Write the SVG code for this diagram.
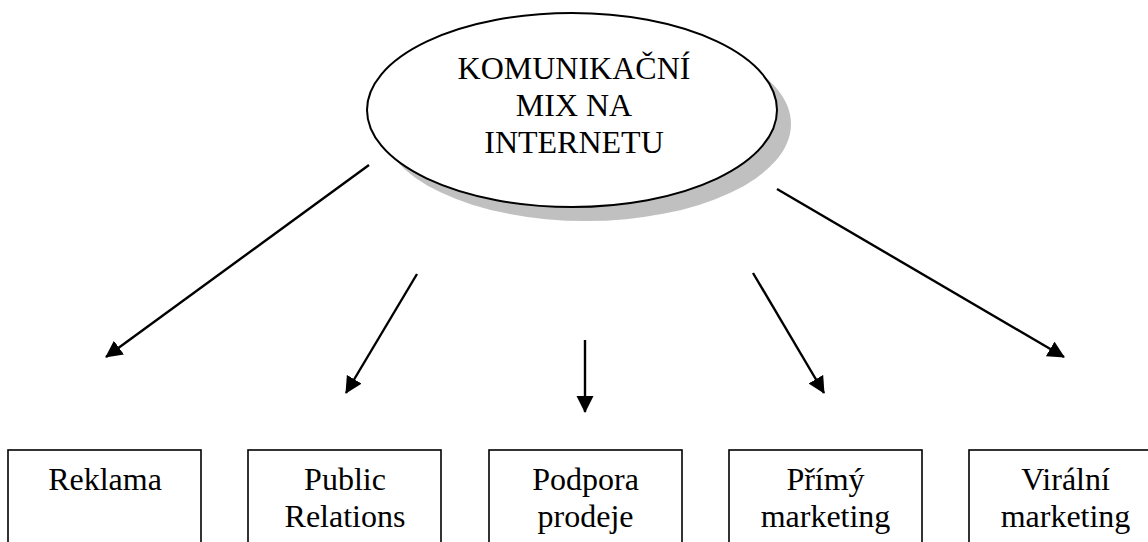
<svg xmlns="http://www.w3.org/2000/svg" width="1148" height="542" viewBox="0 0 1148 542">
  <style>
    .lbl { font-family: "Liberation Serif", "Times New Roman", serif; font-size: 32px; fill: #000; text-anchor: middle; }
    .box { fill: #fff; stroke: #000; stroke-width: 1.6; }
    .arrow { stroke: #000; stroke-width: 2.4; fill: none; marker-end: url(#head); }
  </style>
  <defs>
    <marker id="head" markerUnits="userSpaceOnUse" markerWidth="18" markerHeight="18" refX="16" refY="8.5" orient="auto">
      <path d="M0,0 L17,8.5 L0,17 z" fill="#000"/>
    </marker>
  </defs>

  <rect width="1148" height="542" fill="#fff"/>

  <!-- central topic with drop shadow -->
  <g id="center">
    <ellipse cx="586" cy="124" rx="205" ry="97" fill="#c0c0c0"/>
    <ellipse cx="572" cy="110" rx="205" ry="97" fill="#fff" stroke="#000" stroke-width="2"/>
    <text class="lbl" x="574" y="79">KOMUNIKAČNÍ</text>
    <text class="lbl" x="574" y="116">MIX NA</text>
    <text class="lbl" x="574" y="153">INTERNETU</text>
  </g>

  <!-- connectors -->
  <g id="connectors">
    <line class="arrow" x1="369" y1="165" x2="106" y2="357"/>
    <line class="arrow" x1="417" y1="274" x2="346" y2="393"/>
    <line class="arrow" x1="585" y1="340" x2="585" y2="412"/>
    <line class="arrow" x1="753" y1="273" x2="824" y2="393"/>
    <line class="arrow" x1="777" y1="189" x2="1064" y2="357"/>
  </g>

  <g id="reklama">
    <rect class="box" x="8" y="450" width="193" height="100"/>
    <text class="lbl" x="105" y="490">Reklama</text>
  </g>
  <g id="public-relations">
    <rect class="box" x="248" y="450" width="193" height="100"/>
    <text class="lbl" x="345" y="490">Public</text>
    <text class="lbl" x="345" y="527">Relations</text>
  </g>
  <g id="podpora-prodeje">
    <rect class="box" x="489" y="450" width="193" height="100"/>
    <text class="lbl" x="585.5" y="490">Podpora</text>
    <text class="lbl" x="585.5" y="527">prodeje</text>
  </g>
  <g id="primy-marketing">
    <rect class="box" x="729" y="450" width="193" height="100"/>
    <text class="lbl" x="825.5" y="490">Přímý</text>
    <text class="lbl" x="825.5" y="527">marketing</text>
  </g>
  <g id="viralni-marketing">
    <rect class="box" x="969" y="450" width="193" height="100"/>
    <text class="lbl" x="1065.5" y="490">Virální</text>
    <text class="lbl" x="1065.5" y="527">marketing</text>
  </g>
</svg>
